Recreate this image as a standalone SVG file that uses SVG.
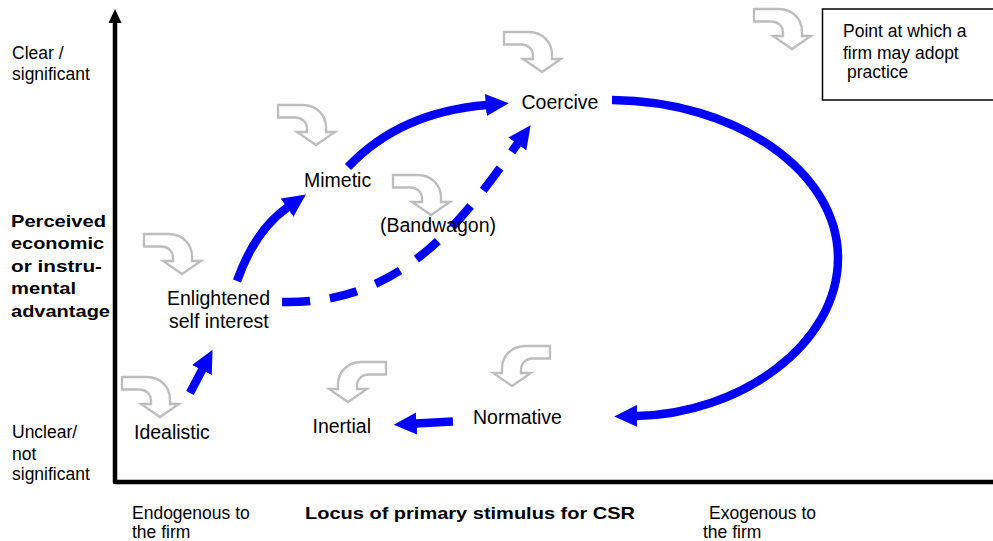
<svg xmlns="http://www.w3.org/2000/svg" xmlns:xlink="http://www.w3.org/1999/xlink" width="993" height="541" viewBox="0 0 993 541">
<style>
text{font-family:"Liberation Sans",Arial,sans-serif;fill:#000}
.sm{font-size:17.5px}
.nd{font-size:19.5px}
.bd{font-size:17px;font-weight:bold}
.gray{fill:#fff;stroke:#bdbdbd;stroke-width:2.3;stroke-linejoin:miter}
.blue{fill:none;stroke:#0000ff;stroke-width:8.5}
.dash{stroke-dasharray:28 20}
.axis{fill:none;stroke:#000;stroke-width:4.5;stroke-linejoin:round}
</style>
<defs>
<path id="bent" d="M0,0 L25,0 C39,0 48,11 48,22 L48,27 L57,27 L38,40 L19,27 L29,27 L29,24 C29,17 24,12.5 17,12.5 L0,12.5 Z"/>
<marker id="head" viewBox="0 0 10 10" refX="0.5" refY="5" markerWidth="2.7" markerHeight="2.6" preserveAspectRatio="none" orient="auto" markerUnits="strokeWidth">
<path d="M0,0 L10,5 L0,10 Z" fill="#0000ff"/>
</marker>
</defs>
<rect width="993" height="541" fill="#fff"/>

<g id="axes">
<path class="axis" d="M115,20 L115,482 L995,482"/>
<polygon points="108.5,23 121.5,23 115,9" fill="#000"/>
<text class="sm" x="12" y="59">Clear /</text>
<text class="sm" x="12" y="80">significant</text>
<text class="bd" x="11" y="226.5" textLength="95" lengthAdjust="spacingAndGlyphs">Perceived</text>
<text class="bd" x="11" y="249" textLength="93" lengthAdjust="spacingAndGlyphs">economic</text>
<text class="bd" x="11" y="271.5" textLength="91" lengthAdjust="spacingAndGlyphs">or instru-</text>
<text class="bd" x="11" y="294" textLength="65" lengthAdjust="spacingAndGlyphs">mental</text>
<text class="bd" x="11" y="316.5" textLength="99" lengthAdjust="spacingAndGlyphs">advantage</text>
<text class="sm" x="12" y="438">Unclear/</text>
<text class="sm" x="12" y="459.5">not</text>
<text class="sm" x="12" y="480">significant</text>
<text class="sm" x="132" y="518.5">Endogenous to</text>
<text class="sm" x="132" y="537.5">the firm</text>
<text class="bd" x="305" y="519" textLength="330" lengthAdjust="spacingAndGlyphs">Locus of primary stimulus for CSR</text>
<text class="sm" x="709" y="518.5">Exogenous to</text>
<text class="sm" x="703" y="537.5">the firm</text>
</g>

<g id="connectors">
<path class="blue" d="M190,393 L202.5,369" stroke-width="9" marker-end="url(#head)"/>
<path class="blue" d="M237,281 Q255,230 288,207" marker-end="url(#head)"/>
<path class="blue" d="M348,167 Q400,112 487,105" marker-end="url(#head)"/>
<path class="blue dash" d="M282,302 C400,305 460,225 518,143" marker-end="url(#head)"/>
<path class="blue" d="M612,100 C736,101 838,171 838,258 C838,345 740,414 636,416" marker-end="url(#head)"/>
<path class="blue" d="M453,421.5 L415.5,423.5" stroke-width="10" marker-end="url(#head)"/>
</g>

<g id="node-idealistic">
<use xlink:href="#bent" href="#bent" class="gray" transform="translate(122,377)"/>
<text class="nd" x="134" y="439">Idealistic</text>
</g>
<g id="node-enlightened">
<use xlink:href="#bent" href="#bent" class="gray" transform="translate(144,234)"/>
<text class="nd" x="167" y="305">Enlightened</text>
<text class="nd" x="169" y="327.5">self interest</text>
</g>
<g id="node-mimetic">
<use xlink:href="#bent" href="#bent" class="gray" transform="translate(278,105)"/>
<text class="nd" x="304" y="187">Mimetic</text>
</g>
<g id="node-bandwagon">
<use xlink:href="#bent" href="#bent" class="gray" transform="translate(393,175)"/>
<text class="nd" x="380" y="232">(Bandwagon)</text>
</g>
<g id="node-coercive">
<use xlink:href="#bent" href="#bent" class="gray" transform="translate(504,32)"/>
<text class="nd" x="521.5" y="109">Coercive</text>
</g>
<g id="node-normative">
<use xlink:href="#bent" href="#bent" class="gray" transform="translate(550,346) scale(-1,1)"/>
<text class="nd" x="473" y="423.5">Normative</text>
</g>
<g id="node-inertial">
<use xlink:href="#bent" href="#bent" class="gray" transform="translate(386,362) scale(-1,1)"/>
<text class="nd" x="312.5" y="432.5">Inertial</text>
</g>
<g id="legend">
<use xlink:href="#bent" href="#bent" class="gray" transform="translate(754,9)"/>
<rect x="822.5" y="9" width="180" height="91" fill="none" stroke="#000" stroke-width="1.5"/>
<text class="sm" x="843" y="37">Point at which a</text>
<text class="sm" x="843" y="58.5">firm may adopt</text>
<text class="sm" x="847" y="77.5">practice</text>
</g>
</svg>
